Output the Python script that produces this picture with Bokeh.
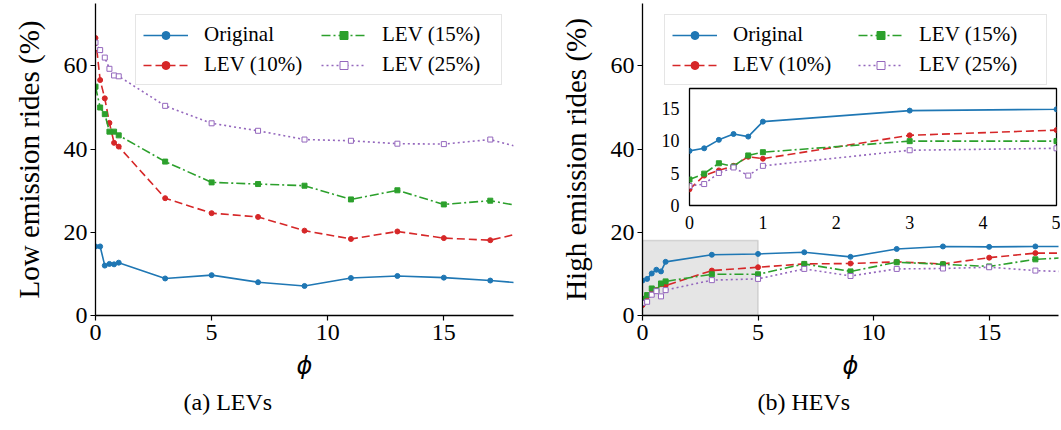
from bokeh.plotting import figure
from bokeh.layouts import row, column
from bokeh.models import Range1d, FixedTicker, Legend, LegendItem, Title, BoxAnnotation
from bokeh.embed import file_html
from bokeh.resources import INLINE

# ---------------- data ----------------
phi = [0, 0.2, 0.4, 0.6, 0.8, 1, 3, 5, 7, 9, 11, 13, 15, 17, 19]

lev_original = [16.6, 16.6, 12.0, 12.4, 12.3, 12.7, 8.9, 9.7, 8.0, 7.1, 9.0, 9.5, 9.1, 8.4, 7.5]
lev_10 = [66.7, 56.6, 52.2, 46.3, 41.5, 40.6, 28.2, 24.6, 23.7, 20.4, 18.4, 20.2, 18.6, 18.1, 20.7]
lev_15 = [55.0, 50.0, 48.4, 44.2, 44.2, 43.3, 37.0, 32.0, 31.6, 31.2, 27.9, 30.1, 26.7, 27.6, 25.6]
lev_25 = [65.6, 63.8, 62.0, 59.3, 57.7, 57.5, 50.4, 46.2, 44.4, 42.3, 42.0, 41.3, 41.2, 42.3, 39.3]

hev_original = [8.4, 8.8, 10.1, 11.0, 10.6, 12.9, 14.6, 14.8, 15.2, 14.1, 16.0, 16.6, 16.5, 16.6, 16.6]
hev_10 = [2.5, 4.6, 5.4, 6.1, 7.5, 7.2, 10.8, 11.6, 12.4, 12.5, 12.9, 12.4, 13.9, 15.0, 15.0]
hev_15 = [4.0, 4.9, 6.5, 6.0, 7.7, 8.2, 9.9, 9.9, 12.4, 10.6, 12.8, 12.3, 11.8, 13.5, 14.1]
hev_25 = [3.0, 3.3, 5.0, 5.85, 4.6, 6.1, 8.5, 8.8, 11.2, 9.5, 11.2, 11.3, 11.6, 10.8, 10.4]

labels = ["Original", "LEV (10%)", "LEV (15%)", "LEV (25%)"]
x_ticks = [0, 5, 10, 15]
y_ticks = [0, 20, 40, 60]
inset_x_ticks = [0, 1, 2, 3, 4, 5]
inset_y_ticks = [0, 5, 10, 15]
x_limits = (0, 18)
y_limits = (0, 75)
zoom_x = (0, 5)
zoom_y = (0, 18)

# ---------------- styles ----------------
colors = ["#1f77b4", "#d62728", "#2ca02c", "#9467bd"]
dashes = ["solid", "8 4", "9 3 2 3", "2 3"]
markers = ["circle", "circle", "square", "square"]
fills = ["#1f77b4", "#d62728", "#2ca02c", "white"]
SERIF = "Liberation Serif"


def add_series(p, ys, legend_label_width=None):
    items = []
    for lab, y, c, d, m, f in zip(labels, ys, colors, dashes, markers, fills):
        lr = p.line(phi, y, line_color=c, line_width=1.6, line_dash=d)
        sr = p.scatter(phi, y, marker=m, size=5, line_color=c, fill_color=f, line_width=1.0)
        items.append(LegendItem(label=lab, renderers=[lr, sr]))
    if legend_label_width is not None:
        leg = Legend(items=items, location="top_right", orientation="vertical", nrows=2,
                     label_text_font=SERIF, label_text_font_size="21px",
                     label_text_color="black",
                     glyph_width=45, glyph_height=20, label_height=20,
                     label_width=legend_label_width,
                     label_standoff=16, spacing=5, padding=7, margin=11,
                     border_line_color="#cccccc", border_line_width=1.2,
                     background_fill_color="white", background_fill_alpha=0.85)
        p.add_layout(leg)


def make_main(ylabel, caption, cap_offset, left_border, right_border, width):
    p = figure(width=width, height=430, x_range=Range1d(*x_limits), y_range=Range1d(*y_limits),
               output_backend="svg", toolbar_location=None,
               min_border_left=left_border, min_border_right=right_border,
               min_border_top=3, min_border_bottom=115)
    p.outline_line_color = None
    p.xgrid.visible = False
    p.ygrid.visible = False
    p.xaxis.ticker = FixedTicker(ticks=x_ticks)
    p.yaxis.ticker = FixedTicker(ticks=y_ticks)
    for ax in (p.xaxis[0], p.yaxis[0]):
        ax.axis_line_color = "black"
        ax.axis_line_width = 1.3
        ax.major_tick_out = 5
        ax.major_tick_in = 0
        ax.major_tick_line_width = 1.2
        ax.major_tick_line_color = "black"
        ax.minor_tick_out = 0
        ax.minor_tick_in = 0
        ax.major_label_text_font = SERIF
        ax.major_label_text_font_size = "24px"
        ax.major_label_text_color = "black"
        ax.axis_label_text_color = "black"
    p.yaxis.major_label_standoff = 3
    p.xaxis.major_label_standoff = 4
    p.yaxis.axis_label = ylabel
    p.yaxis.axis_label_text_font = SERIF
    p.yaxis.axis_label_text_font_size = "29px"
    p.yaxis.axis_label_text_font_style = "normal"
    p.yaxis.axis_label_standoff = 16
    p.xaxis.axis_label = "ϕ"
    p.xaxis.axis_label_text_font = "DejaVu Sans"
    p.xaxis.axis_label_text_font_style = "italic"
    p.xaxis.axis_label_text_font_size = "24px"
    p.xaxis.axis_label_standoff = 9
    p.add_layout(Title(text=caption, align="left", offset=cap_offset, text_font=SERIF,
                       text_font_size="24px", text_font_style="normal",
                       text_color="black", standoff=8), "below")
    return p


p1 = make_main("Low emission rides (%)", "(a) LEVs", 88, 95, 17, 530)
add_series(p1, [lev_original, lev_10, lev_15, lev_25], legend_label_width=112)

p2 = make_main("High emission rides (%)", "(b) HEVs", 115, 112, 3, 531)
p2.add_layout(BoxAnnotation(left=zoom_x[0], right=zoom_x[1], bottom=zoom_y[0], top=zoom_y[1],
                            fill_color="#e5e5e5", fill_alpha=1.0, line_color="#8c8c8c",
                            line_width=1.5, level="underlay"))
add_series(p2, [hev_original, hev_10, hev_15, hev_25], legend_label_width=120)

# ---------------- inset ----------------
inset = figure(width=406, height=149, x_range=Range1d(*zoom_x), y_range=Range1d(*zoom_y),
               output_backend="svg", toolbar_location=None,
               min_border_left=35, min_border_right=4, min_border_top=4, min_border_bottom=28,
               border_fill_color=None, background_fill_color="white",
               outline_line_color="black", outline_line_width=1.3,
               styles={"position": "absolute", "left": "654px", "top": "84px"})
inset.xgrid.visible = False
inset.ygrid.visible = False
inset.xaxis.ticker = FixedTicker(ticks=inset_x_ticks)
inset.yaxis.ticker = FixedTicker(ticks=inset_y_ticks)
for ax in (inset.xaxis[0], inset.yaxis[0]):
    ax.axis_line_color = None
    ax.major_tick_out = 0
    ax.major_tick_in = 0
    ax.minor_tick_out = 0
    ax.minor_tick_in = 0
    ax.major_label_text_font = SERIF
    ax.major_label_text_font_size = "18px"
    ax.major_label_text_color = "black"
    ax.major_label_standoff = 10
add_series(inset, [hev_original, hev_10, hev_15, hev_25])

layout = column(row(p1, p2), inset)

with open("out.html", "w") as f:
    f.write(file_html(layout, INLINE))
